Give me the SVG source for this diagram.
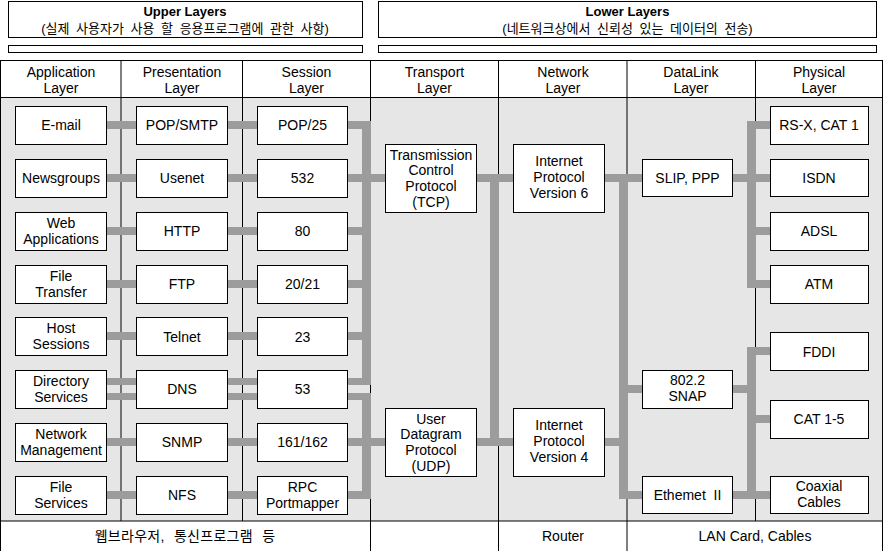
<svg xmlns="http://www.w3.org/2000/svg" width="883" height="551" viewBox="0 0 883 551">
<style>
.box{fill:#fff;stroke:#000;stroke-width:1}
.ln{stroke:#000;stroke-width:1;fill:none}
.c{fill:#9c9c9c}
text{font-family:"Liberation Sans","Noto Sans CJK KR",Arial,sans-serif;font-size:14px;text-anchor:middle;fill:#000}
.ttl{font-size:13px;font-weight:bold}
.ko{font-size:13px;word-spacing:3px}
.ft{font-size:14px}
.kf{word-spacing:5px;letter-spacing:0.3px}
</style>
<rect x="0" y="0" width="883" height="551" fill="#fff"/>
<g id="title-upper">
<rect class="box" x="8.5" y="1.5" width="354" height="36"/>
<rect class="box" x="8.5" y="45.5" width="354" height="7"/>
<text class="ttl" x="185" y="16">Upper Layers</text>
<text class="ko" x="185" y="32.5">(실제 사용자가 사용 할 응용프로그램에 관한 사항)</text>
</g>
<g id="title-lower">
<rect class="box" x="378.5" y="1.5" width="498" height="36"/>
<rect class="box" x="378.5" y="45.5" width="498" height="7"/>
<text class="ttl" x="627.5" y="16">Lower Layers</text>
<text class="ko" x="627.5" y="32.5">(네트워크상에서 신뢰성 있는 데이터의 전송)</text>
</g>
<g id="table">
<rect x="0" y="98" width="883" height="423" fill="#e6e6e6"/>
<path class="ln" d="M0 60.5H883M0 97.5H883M0 521H883M0.5 60.5V551M882.5 60.5V551M121 60.5V521M242.5 60.5V521M370.5 60.5V551M498.5 60.5V551M627 60.5V551M755.5 60.5V521"/>
<text x="61" y="77">Application</text><text x="61" y="92.5">Layer</text>
<text x="182" y="77">Presentation</text><text x="182" y="92.5">Layer</text>
<text x="306.5" y="77">Session</text><text x="306.5" y="92.5">Layer</text>
<text x="434.5" y="77">Transport</text><text x="434.5" y="92.5">Layer</text>
<text x="563" y="77">Network</text><text x="563" y="92.5">Layer</text>
<text x="691" y="77">DataLink</text><text x="691" y="92.5">Layer</text>
<text x="819" y="77">Physical</text><text x="819" y="92.5">Layer</text>
<text class="ft kf" x="185" y="541">웹브라우저, 통신프로그램 등</text>
<text class="ft" x="563" y="541">Router</text>
<text class="ft" x="755" y="541">LAN Card, Cables</text>
</g>
<g id="connectors">
<rect class="c" x="107" y="121" width="29" height="8"/>
<rect class="c" x="107" y="174" width="29" height="8"/>
<rect class="c" x="107" y="227" width="29" height="8"/>
<rect class="c" x="107" y="280" width="29" height="8"/>
<rect class="c" x="107" y="332" width="29" height="8"/>
<rect class="c" x="107" y="378" width="29" height="7"/>
<rect class="c" x="107" y="393" width="29" height="7"/>
<rect class="c" x="107" y="438" width="29" height="8"/>
<rect class="c" x="107" y="491" width="29" height="8"/>
<rect class="c" x="228" y="121" width="29" height="8"/>
<rect class="c" x="228" y="174" width="29" height="8"/>
<rect class="c" x="228" y="227" width="29" height="8"/>
<rect class="c" x="228" y="280" width="29" height="8"/>
<rect class="c" x="228" y="332" width="29" height="8"/>
<rect class="c" x="228" y="378" width="29" height="7"/>
<rect class="c" x="228" y="393" width="29" height="7"/>
<rect class="c" x="228" y="438" width="29" height="8"/>
<rect class="c" x="228" y="491" width="29" height="8"/>
<rect class="c" x="348" y="121" width="14" height="8"/>
<rect class="c" x="348" y="174" width="37" height="8"/>
<rect class="c" x="348" y="227" width="14" height="8"/>
<rect class="c" x="348" y="280" width="14" height="8"/>
<rect class="c" x="348" y="332" width="14" height="8"/>
<rect class="c" x="348" y="378" width="14" height="7"/>
<rect class="c" x="348" y="393" width="14" height="7"/>
<rect class="c" x="348" y="438" width="37" height="8"/>
<rect class="c" x="348" y="491" width="14" height="8"/>
<rect class="c" x="362" y="121" width="9" height="264"/>
<rect class="c" x="362" y="393" width="9" height="106"/>
<rect class="c" x="477" y="174" width="36" height="8"/>
<rect class="c" x="477" y="438" width="36" height="8"/>
<rect class="c" x="490" y="174" width="9" height="272"/>
<rect class="c" x="605" y="174" width="37" height="8"/>
<rect class="c" x="605" y="438" width="14" height="8"/>
<rect class="c" x="619" y="174" width="9" height="325"/>
<rect class="c" x="627" y="385" width="15" height="8"/>
<rect class="c" x="627" y="491" width="15" height="8"/>
<rect class="c" x="733" y="174" width="37" height="8"/>
<rect class="c" x="747" y="121" width="9" height="167"/>
<rect class="c" x="756" y="121" width="14" height="8"/>
<rect class="c" x="756" y="227" width="14" height="8"/>
<rect class="c" x="756" y="280" width="14" height="8"/>
<rect class="c" x="733" y="385" width="14" height="8"/>
<rect class="c" x="733" y="491" width="37" height="8"/>
<rect class="c" x="747" y="347" width="9" height="152"/>
<rect class="c" x="756" y="347" width="14" height="8"/>
<rect class="c" x="756" y="415" width="14" height="8"/>
</g>
<g id="app-email"><rect class="box" x="15.5" y="106.5" width="91" height="38"/><text x="61" y="130">E-mail</text></g>
<g id="app-news"><rect class="box" x="15.5" y="159.5" width="91" height="38"/><text x="61" y="183">Newsgroups</text></g>
<g id="app-web"><rect class="box" x="15.5" y="212.5" width="91" height="38"/><text x="61" y="227.5">Web</text><text x="61" y="243.5">Applications</text></g>
<g id="app-file"><rect class="box" x="15.5" y="265.5" width="91" height="38"/><text x="61" y="280.5">File</text><text x="61" y="296.5">Transfer</text></g>
<g id="app-host"><rect class="box" x="15.5" y="317.5" width="91" height="38"/><text x="61" y="332.5">Host</text><text x="61" y="348.5">Sessions</text></g>
<g id="app-dir"><rect class="box" x="15.5" y="370.5" width="91" height="38"/><text x="61" y="385.5">Directory</text><text x="61" y="401.5">Services</text></g>
<g id="app-netmgmt"><rect class="box" x="15.5" y="423.5" width="91" height="38"/><text x="61" y="438.5">Network</text><text x="61" y="454.5">Management</text></g>
<g id="app-filesvc"><rect class="box" x="15.5" y="476.5" width="91" height="38"/><text x="61" y="491.5">File</text><text x="61" y="507.5">Services</text></g>
<g id="pre-pop"><rect class="box" x="136.5" y="106.5" width="91" height="38"/><text x="182" y="130">POP/SMTP</text></g>
<g id="pre-usenet"><rect class="box" x="136.5" y="159.5" width="91" height="38"/><text x="182" y="183">Usenet</text></g>
<g id="pre-http"><rect class="box" x="136.5" y="212.5" width="91" height="38"/><text x="182" y="236">HTTP</text></g>
<g id="pre-ftp"><rect class="box" x="136.5" y="265.5" width="91" height="38"/><text x="182" y="289">FTP</text></g>
<g id="pre-telnet"><rect class="box" x="136.5" y="317.5" width="91" height="38"/><text x="182" y="341.5">Telnet</text></g>
<g id="pre-dns"><rect class="box" x="136.5" y="370.5" width="91" height="38"/><text x="182" y="394">DNS</text></g>
<g id="pre-snmp"><rect class="box" x="136.5" y="423.5" width="91" height="38"/><text x="182" y="447">SNMP</text></g>
<g id="pre-nfs"><rect class="box" x="136.5" y="476.5" width="91" height="38"/><text x="182" y="500">NFS</text></g>
<g id="ses-pop25"><rect class="box" x="257.5" y="106.5" width="90" height="38"/><text x="302.5" y="130">POP/25</text></g>
<g id="ses-532"><rect class="box" x="257.5" y="159.5" width="90" height="38"/><text x="302.5" y="183">532</text></g>
<g id="ses-80"><rect class="box" x="257.5" y="212.5" width="90" height="38"/><text x="302.5" y="236">80</text></g>
<g id="ses-2021"><rect class="box" x="257.5" y="265.5" width="90" height="38"/><text x="302.5" y="289">20/21</text></g>
<g id="ses-23"><rect class="box" x="257.5" y="317.5" width="90" height="38"/><text x="302.5" y="341.5">23</text></g>
<g id="ses-53"><rect class="box" x="257.5" y="370.5" width="90" height="38"/><text x="302.5" y="394">53</text></g>
<g id="ses-161"><rect class="box" x="257.5" y="423.5" width="90" height="38"/><text x="302.5" y="447">161/162</text></g>
<g id="ses-rpc"><rect class="box" x="257.5" y="476.5" width="90" height="38"/><text x="302.5" y="491.5">RPC</text><text x="302.5" y="507.5">Portmapper</text></g>
<g id="tcp"><rect class="box" x="385.5" y="144.5" width="91" height="68"/><text x="431" y="159.5">Transmission</text><text x="431" y="175.2">Control</text><text x="431" y="190.9">Protocol</text><text x="431" y="206.6">(TCP)</text></g>
<g id="udp"><rect class="box" x="385.5" y="408.5" width="91" height="68"/><text x="431" y="423.5">User</text><text x="431" y="439.2">Datagram</text><text x="431" y="454.9">Protocol</text><text x="431" y="470.6">(UDP)</text></g>
<g id="ipv6"><rect class="box" x="513.5" y="144.5" width="91" height="68"/><text x="559" y="166">Internet</text><text x="559" y="182">Protocol</text><text x="559" y="198">Version 6</text></g>
<g id="ipv4"><rect class="box" x="513.5" y="408.5" width="91" height="68"/><text x="559" y="430">Internet</text><text x="559" y="446">Protocol</text><text x="559" y="462">Version 4</text></g>
<g id="slip"><rect class="box" x="642.5" y="159.5" width="90" height="37"/><text x="687.5" y="183">SLIP, PPP</text></g>
<g id="snap"><rect class="box" x="642.5" y="370.5" width="90" height="38"/><text x="687.5" y="385">802.2</text><text x="687.5" y="401">SNAP</text></g>
<g id="ethernet"><rect class="box" x="642.5" y="476.5" width="90" height="37"/><text x="687.5" y="500" xml:space="preserve">Ethemet  II</text></g>
<g id="phy-rsx"><rect class="box" x="770.5" y="106.5" width="98" height="38"/><text x="819" y="130">RS-X, CAT 1</text></g>
<g id="phy-isdn"><rect class="box" x="770.5" y="159.5" width="98" height="37"/><text x="819" y="183">ISDN</text></g>
<g id="phy-adsl"><rect class="box" x="770.5" y="212.5" width="98" height="38"/><text x="819" y="236">ADSL</text></g>
<g id="phy-atm"><rect class="box" x="770.5" y="265.5" width="98" height="38"/><text x="819" y="289">ATM</text></g>
<g id="phy-fddi"><rect class="box" x="770.5" y="332.5" width="98" height="38"/><text x="819" y="356.5">FDDI</text></g>
<g id="phy-cat"><rect class="box" x="770.5" y="400.5" width="98" height="38"/><text x="819" y="424">CAT 1-5</text></g>
<g id="phy-coax"><rect class="box" x="770.5" y="476.5" width="98" height="37"/><text x="819" y="491">Coaxial</text><text x="819" y="507">Cables</text></g>
</svg>
